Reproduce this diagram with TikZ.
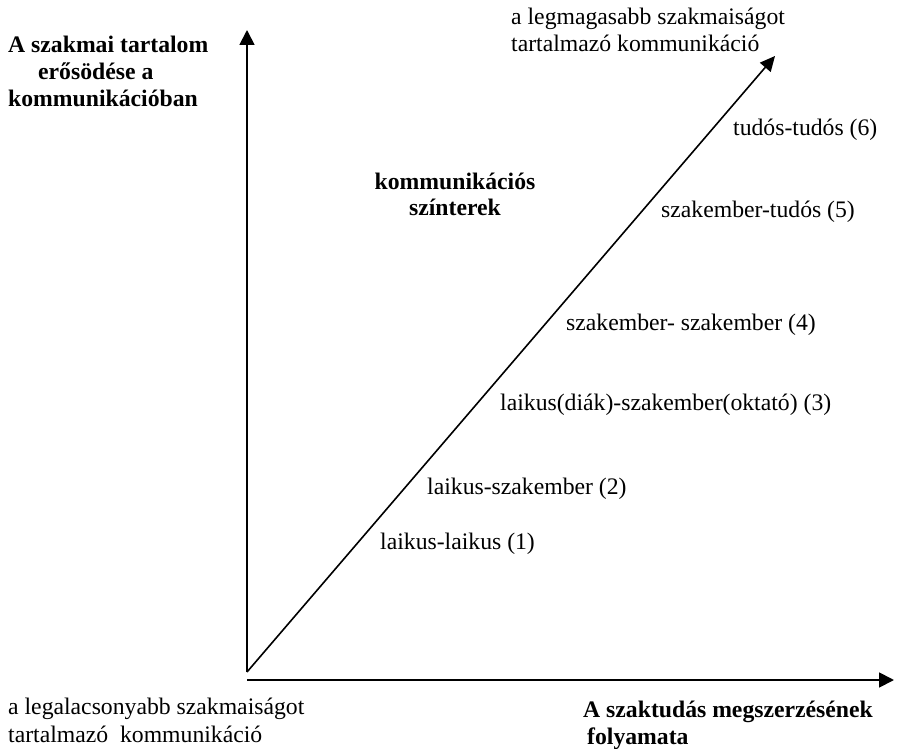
\documentclass[tikz,border=0pt]{standalone}
\usepackage{fontspec}
\setmainfont{Liberation Serif}
\usetikzlibrary{arrows.meta}
\begin{document}
\begin{tikzpicture}[x=1pt,y=-1pt,
  axis/.style={line width=1.8pt,-{Triangle[length=15pt,width=15pt]}},
  diag/.style={line width=1.6pt,-{Triangle[length=15pt,width=14pt]}},
  lbl/.style={inner sep=0pt,anchor=base west,align=left,font=\fontsize{23.7}{27.5}\selectfont},
  blbl/.style={lbl,font=\fontsize{23.7}{27}\selectfont\bfseries}]
\useasboundingbox[fill=white] (0,0) rectangle (898,749);
\coordinate (O) at (247,672);
\coordinate (Xo) at (247,680);
\coordinate (Ytip) at (247,30);
\coordinate (Xtip) at (894,680);
\coordinate (Dtip) at (775,56);
\draw[axis] (O) -- (Ytip);
\draw[axis] (Xo) -- (Xtip);
\draw[diag] (O) -- (Dtip);
% multi-line nodes: base anchor sits on the last line's baseline
\node[blbl] (ylab) at (8,107) {A szakmai tartalom\\\hspace*{30pt}erősödése a\\kommunikációban};
\node[lbl] (top) at (511,52) {a legmagasabb szakmaiságot\\tartalmazó kommunikáció};
\node[lbl] (bot) at (8,742) {a legalacsonyabb szakmaiságot\\tartalmazó\ \ kommunikáció};
\node[blbl] (xlab) at (583,744) {A szaktudás megszerzésének\\\hspace*{4pt}folyamata};
\node[blbl,align=center,anchor=base] (szin) at (455,216) {kommunikációs\\színterek};
\node[lbl] (l6) at (733,136) {tudós-tudós (6)};
\node[lbl] (l5) at (661,218) {szakember-tudós (5)};
\node[lbl] (l4) at (566,330) {szakember- szakember (4)};
\node[lbl] (l3) at (500,410) {laikus(diák)-szakember(oktató) (3)};
\node[lbl] (l2) at (427,494) {laikus-szakember (2)};
\node[lbl] (l1) at (380,549) {laikus-laikus (1)};
\end{tikzpicture}
\end{document}
